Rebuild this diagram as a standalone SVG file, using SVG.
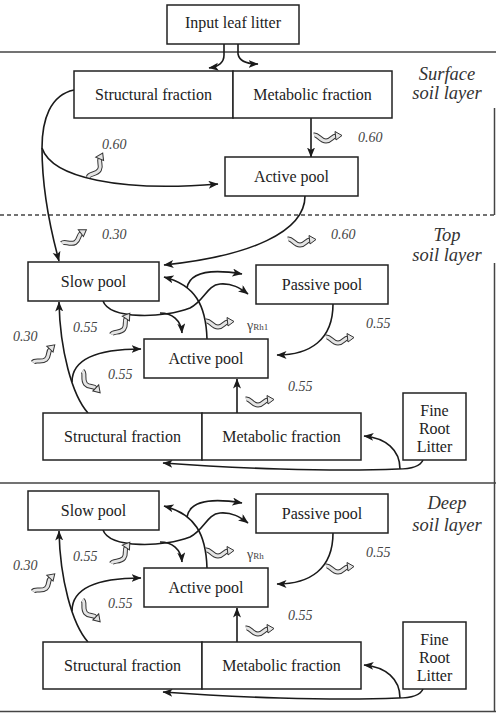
<svg xmlns="http://www.w3.org/2000/svg" xmlns:xlink="http://www.w3.org/1999/xlink" width="496" height="713" viewBox="0 0 496 713">
<style>
.bx{fill:#fff;stroke:#222;stroke-width:1.5}
.t{font-family:'Liberation Serif','Times New Roman',serif;font-size:16px;fill:#222;text-anchor:middle}
.lay{font-family:'Liberation Serif','Times New Roman',serif;font-size:18.5px;font-style:italic;fill:#333;text-anchor:middle}
.v{font-family:'Liberation Serif','Times New Roman',serif;font-size:14px;font-style:italic;fill:#444}
.g{font-family:'Liberation Serif','Times New Roman',serif;font-size:14px;fill:#444}
.c{fill:none;stroke:#1a1a1a;stroke-width:1.6}
.ca{fill:none;stroke:#1a1a1a;stroke-width:1.6;marker-end:url(#ah)}
.fr{fill:none;stroke:#444;stroke-width:1.5}
.rb{fill:none;stroke:#333;stroke-width:5;stroke-linecap:butt}
.rf{fill:none;stroke:#e4e4e4;stroke-width:3}
</style>
<defs>
<marker id="ah" markerUnits="userSpaceOnUse" markerWidth="11" markerHeight="9" refX="9.5" refY="4" orient="auto">
<path d="M0,0 L10,4 L0,8 L2.5,4 Z" fill="#1a1a1a"/>
</marker>
<g id="curl">
<path class="rb" d="M-14,-2 C-10,-3 -8,4 -2,4 C3,4 4,-1 8,-1"/>
<path class="rf" d="M-14,-2 C-10,-3 -8,4 -2,4 C3,4 4,-1 8,-1"/>
<path d="M7,-5.5 L14,-1.5 L8,3 Z" fill="#e4e4e4" stroke="#333" stroke-width="1"/>
</g>
</defs>
<rect width="496" height="713" fill="#fff"/>

<g id="frames">
<line class="fr" x1="0" y1="52" x2="496" y2="52"/>
<line class="fr" x1="0" y1="483" x2="496" y2="483"/>
<line class="fr" x1="0" y1="711.5" x2="496" y2="711.5"/>
<line class="fr" x1="494.5" y1="108" x2="494.5" y2="215"/>
<line class="fr" x1="494.5" y1="263" x2="494.5" y2="711"/>
<line x1="0" y1="215" x2="496" y2="215" stroke="#444" stroke-width="1.3" stroke-dasharray="4,3"/>
</g>

<g id="layer-labels">
<text class="lay" x="447" y="80">Surface</text>
<text class="lay" x="447" y="99">soil layer</text>
<text class="lay" x="447" y="241">Top</text>
<text class="lay" x="447" y="261">soil layer</text>
<text class="lay" x="447" y="509">Deep</text>
<text class="lay" x="447" y="531">soil layer</text>
</g>

<g id="connectors">
<path class="ca" d="M224,44 L224,55 Q224,66 209,68"/>
<path class="ca" d="M238,44 L238,54 Q240,64 258,64"/>
<path class="ca" d="M311,118 L311,157"/>
<path class="ca" d="M74,90 C50,95 42,120 42,148 C42,190 50,228 59,261"/>
<path class="ca" d="M42,148 C52,178 120,192 218,184"/>
<path class="ca" d="M305,196 C305,232 250,256 164,265"/>
<g id="top-conn">
<path class="ca" d="M207,339 C206,305 195,285 164,277"/>
<path class="ca" d="M187,288 C190,271 212,269 242,274"/>
<path class="ca" d="M103,301 C110,320 165,318 190,308 C205,300 207,285 220,284 C232,283 240,288 248,294"/>
<path class="ca" d="M160,313 C172,313 181,320 182,333"/>
<path class="ca" d="M333,304 C333,340 310,355 277,355"/>
<path class="ca" d="M237,413 L237,379"/>
<path class="ca" d="M88,413 C72,395 60,350 59,302"/>
<path class="ca" d="M72,382 C72,360 95,349 141,349"/>
<path class="ca" d="M423,460 C420,467 410,469 398,469 C330,472 230,468 163,463"/>
<path class="ca" d="M400,469 C400,450 386,438 364,436"/>
</g>
<g id="deep-conn" transform="translate(0,229)">
<path class="ca" d="M207,339 C206,305 195,285 164,277"/>
<path class="ca" d="M187,288 C190,271 212,269 242,274"/>
<path class="ca" d="M103,301 C110,320 165,318 190,308 C205,300 207,285 220,284 C232,283 240,288 248,294"/>
<path class="ca" d="M160,313 C172,313 181,320 182,333"/>
<path class="ca" d="M333,304 C333,340 310,355 277,355"/>
<path class="ca" d="M237,413 L237,379"/>
<path class="ca" d="M88,413 C72,395 60,350 59,302"/>
<path class="ca" d="M72,382 C72,360 95,349 141,349"/>
<path class="ca" d="M423,460 C420,467 410,469 398,469 C330,472 230,468 163,463"/>
<path class="ca" d="M400,469 C400,450 386,438 364,436"/>
</g>
</g>

<g id="flux-labels">
<use xlink:href="#curl" transform="translate(328,137)"/>
<use xlink:href="#curl" transform="translate(97,166) rotate(-60)"/>
<use xlink:href="#curl" transform="translate(75,238) rotate(-30)"/>
<use xlink:href="#curl" transform="translate(302,241)"/>
<text class="v" x="358" y="142">0.60</text>
<text class="v" x="102" y="149">0.60</text>
<text class="v" x="102" y="239">0.30</text>
<text class="v" x="331" y="239">0.60</text>
<g id="top-flux">
<use xlink:href="#curl" transform="translate(122,325) rotate(-50)"/>
<use xlink:href="#curl" transform="translate(220,323)"/>
<use xlink:href="#curl" transform="translate(340,339)"/>
<use xlink:href="#curl" transform="translate(45,355) rotate(-40)"/>
<use xlink:href="#curl" transform="translate(90,383) rotate(50)"/>
<use xlink:href="#curl" transform="translate(260,401)"/>
<text class="v" x="73" y="332">0.55</text>
<text class="v" x="13" y="341">0.30</text>
<text class="v" x="366" y="328">0.55</text>
<text class="v" x="108" y="379">0.55</text>
<text class="v" x="288" y="391">0.55</text>
<text class="g" x="247" y="330">γ<tspan font-size="9">Rh1</tspan></text>
</g>
<g id="deep-flux" transform="translate(0,229)">
<use xlink:href="#curl" transform="translate(122,325) rotate(-50)"/>
<use xlink:href="#curl" transform="translate(220,323)"/>
<use xlink:href="#curl" transform="translate(340,339)"/>
<use xlink:href="#curl" transform="translate(45,355) rotate(-40)"/>
<use xlink:href="#curl" transform="translate(90,383) rotate(50)"/>
<use xlink:href="#curl" transform="translate(260,401)"/>
<text class="v" x="73" y="332">0.55</text>
<text class="v" x="13" y="341">0.30</text>
<text class="v" x="366" y="328">0.55</text>
<text class="v" x="108" y="379">0.55</text>
<text class="v" x="288" y="391">0.55</text>
<text class="g" x="247" y="330">γ<tspan font-size="9">Rh</tspan></text>
</g>
</g>

<g id="input-leaf-litter"><rect class="bx" x="167" y="5" width="132" height="39"/><text class="t" x="233" y="28">Input leaf litter</text></g>
<g id="surface-structural"><rect class="bx" x="74" y="71" width="159" height="47"/><text class="t" x="153.5" y="100">Structural fraction</text></g>
<g id="surface-metabolic"><rect class="bx" x="233" y="71" width="159" height="47"/><text class="t" x="312.5" y="100">Metabolic fraction</text></g>
<g id="surface-active"><rect class="bx" x="225" y="157" width="133" height="39"/><text class="t" x="291.5" y="181.5">Active pool</text></g>

<g id="top-slow"><rect class="bx" x="28" y="262" width="131" height="39"/><text class="t" x="93.5" y="287">Slow pool</text></g>
<g id="top-passive"><rect class="bx" x="256" y="265" width="132" height="39"/><text class="t" x="322" y="290">Passive pool</text></g>
<g id="top-active"><rect class="bx" x="144" y="339" width="124" height="39"/><text class="t" x="206" y="364">Active pool</text></g>
<g id="top-structural"><rect class="bx" x="43" y="413" width="159" height="47"/><text class="t" x="122.5" y="442">Structural fraction</text></g>
<g id="top-metabolic"><rect class="bx" x="202" y="413" width="159" height="47"/><text class="t" x="281.5" y="442">Metabolic fraction</text></g>
<g id="top-fine-root"><rect class="bx" x="403" y="393" width="63" height="67"/><text class="t" x="434.5" y="416">Fine</text><text class="t" x="434.5" y="434">Root</text><text class="t" x="434.5" y="452">Litter</text></g>

<g id="deep-slow"><rect class="bx" x="28" y="491" width="131" height="39"/><text class="t" x="93.5" y="516">Slow pool</text></g>
<g id="deep-passive"><rect class="bx" x="256" y="494" width="132" height="39"/><text class="t" x="322" y="519">Passive pool</text></g>
<g id="deep-active"><rect class="bx" x="144" y="568" width="124" height="39"/><text class="t" x="206" y="593">Active pool</text></g>
<g id="deep-structural"><rect class="bx" x="43" y="642" width="159" height="47"/><text class="t" x="122.5" y="671">Structural fraction</text></g>
<g id="deep-metabolic"><rect class="bx" x="202" y="642" width="159" height="47"/><text class="t" x="281.5" y="671">Metabolic fraction</text></g>
<g id="deep-fine-root"><rect class="bx" x="403" y="622" width="63" height="67"/><text class="t" x="434.5" y="645">Fine</text><text class="t" x="434.5" y="663">Root</text><text class="t" x="434.5" y="681">Litter</text></g>
</svg>
